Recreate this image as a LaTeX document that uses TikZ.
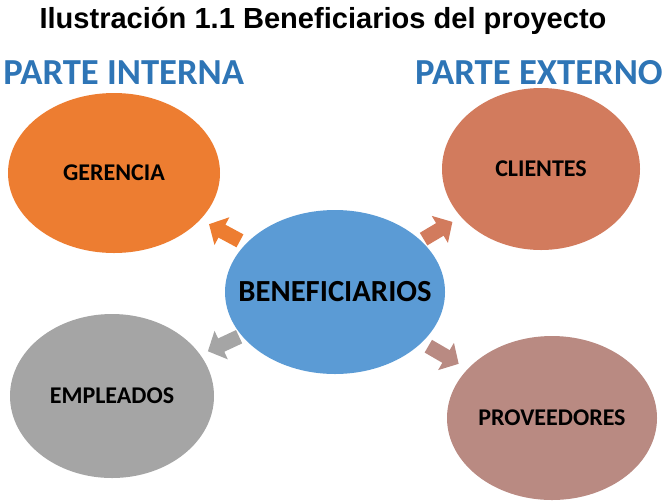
\documentclass[tikz,border=0pt]{standalone}
\usepackage{fontspec}
\setmainfont{Liberation Sans}
\newfontfamily\calibri{Carlito}
\usetikzlibrary{shapes.geometric,arrows.meta,calc}
\definecolor{gerorange}{HTML}{ED7D31}
\definecolor{clisalmon}{HTML}{D27B5D}
\definecolor{benblue}{HTML}{5B9BD5}
\definecolor{empgray}{HTML}{A5A5A5}
\definecolor{prorose}{HTML}{B98A82}
\definecolor{partblue}{HTML}{2E75B6}
\begin{document}
\begin{tikzpicture}[x=0.75pt,y=-0.75pt,
  bub/.style={ellipse,inner sep=0pt,text=black,font=\calibri\bfseries\fontsize{18}{21}\selectfont},
  rad/.style={line width=11pt,-{Triangle[length=11pt,width=23pt]}},
  parte/.style={inner sep=0pt,text=partblue,font=\calibri\bfseries\fontsize{27.5}{31}\selectfont}]
\useasboundingbox (0,0) rectangle (666,501);
\node [inner sep=0pt,anchor=base] (tit) at (323,28) {\bfseries\fontsize{21.8}{25}\selectfont Ilustración 1.1 Beneficiarios del proyecto};
\node [parte,anchor=base west] (pin) at (3,84) {PARTE INTERNA};
\node [parte,anchor=base east] (pex) at (663,84) {PARTE EXTERNO};
%
\node [bub,fill=gerorange,minimum width=159pt,minimum height=120pt] (ger) at (114,173) {GERENCIA};
\node [bub,fill=clisalmon,minimum width=148.5pt,minimum height=121.5pt] (cli) at (541,169) {CLIENTES};
\node [bub,fill=benblue,minimum width=165pt,minimum height=123pt,
  label={[font=\calibri\bfseries\fontsize{23}{27}\selectfont]center:BENEFICIARIOS}] (ben) at (335,292) {};
\node [bub,fill=empgray,minimum width=153pt,minimum height=123pt] (emp) at (112,396) {EMPLEADOS};
\node [bub,fill=prorose,minimum width=157.5pt,minimum height=123pt] (pro) at (552,418) {PROVEEDORES};
%
\draw [rad,gerorange] ($(ben)!0.43!(ger)$) -- ($(ben)!0.57!(ger)$);
\draw [rad,clisalmon] ($(ben)!0.43!(cli)$) -- ($(ben)!0.57!(cli)$);
\draw [rad,empgray] ($(ben)!0.43!(emp)$) -- ($(ben)!0.57!(emp)$);
\draw [rad,prorose] ($(ben)!0.43!(pro)$) -- ($(ben)!0.57!(pro)$);
\end{tikzpicture}
\end{document}
